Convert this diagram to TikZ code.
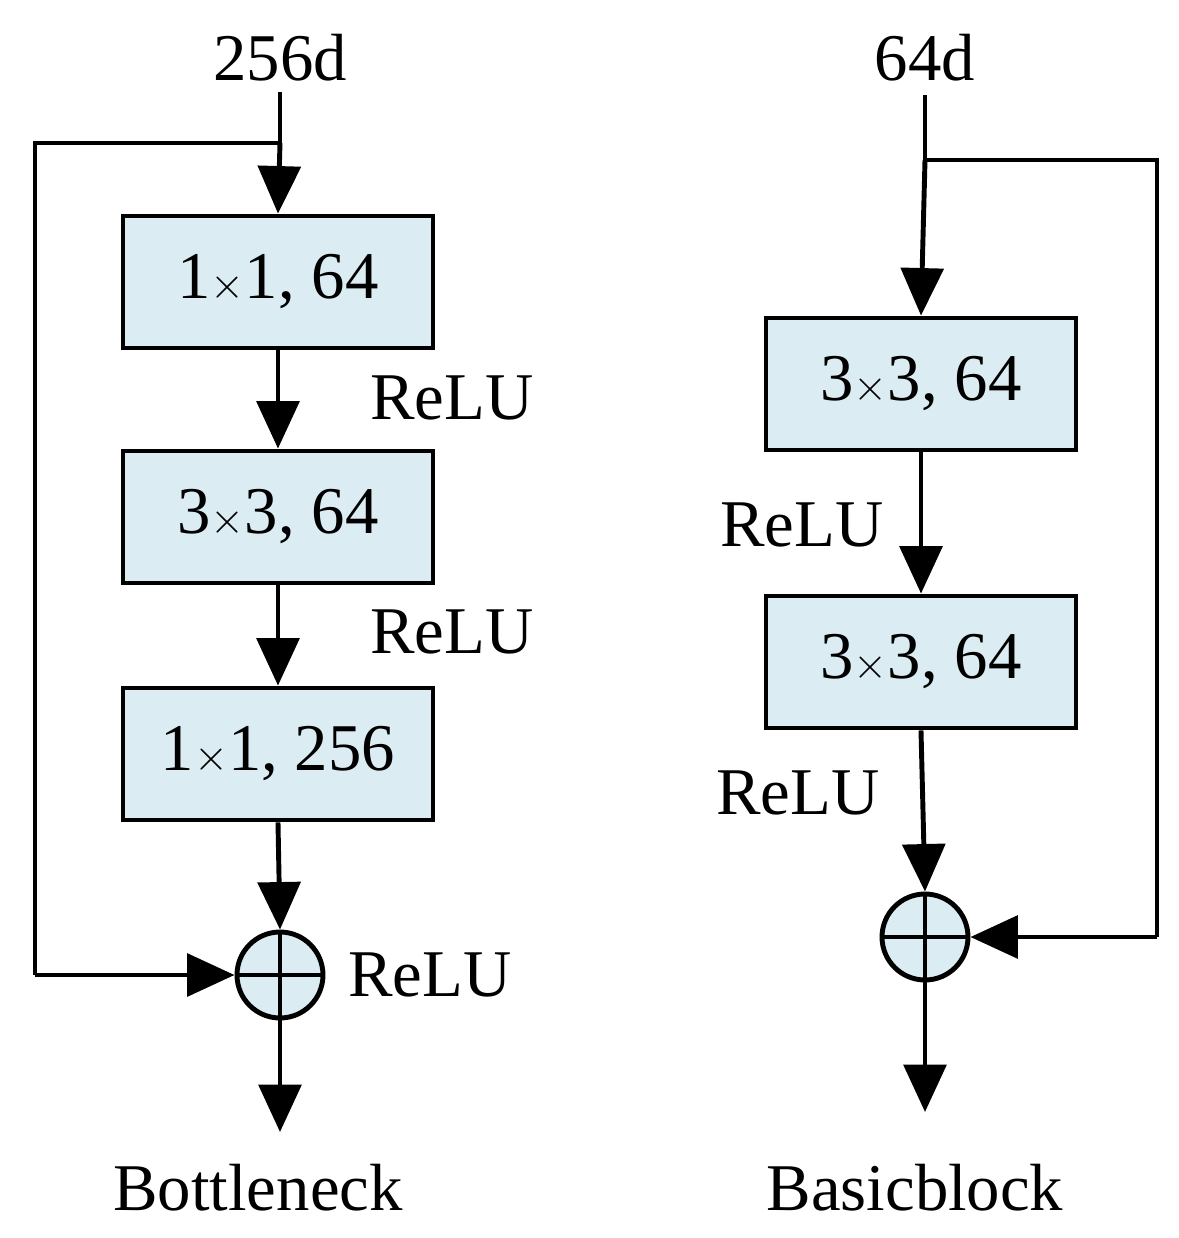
\documentclass[tikz,border=0pt]{standalone}
\usepackage{fontspec}
\setmainfont{Liberation Serif}
\usetikzlibrary{arrows.meta}
\definecolor{boxfill}{RGB}{219,237,243}
\begin{document}
\begin{tikzpicture}[x=0.02cm,y=-0.02cm,
  line width=2.8pt,
  lbl/.style={font=\fontsize{38}{40}\selectfont, inner sep=0},
  box/.style={draw, fill=boxfill, minimum width=6.2cm, minimum height=2.64cm, font=\fontsize{38}{40}\selectfont, inner sep=0},
  sum/.style={draw, fill=boxfill, circle, minimum size=1.72cm, inner sep=0},
  arr/.style={-{Triangle[length=0.95cm,width=0.85cm]}}]
\useasboundingbox (0,0) rectangle (1179,1238);
% Left: Bottleneck
\node[lbl] (in1) at (280,58) {256d};
\coordinate (t1) at (280,92);
\coordinate (s1) at (280,143);
\coordinate (s1a) at (35,143);
\coordinate (s1b) at (35,975);
\node[box] (b1) at (278,282) {1$\times$1, 64};
\node[box] (b2) at (278,517) {3$\times$3, 64};
\node[box] (b3) at (278,754) {1$\times$1, 256};
\node[sum] (c1) at (280,975) {};
\draw (c1.north) -- (c1.south) (c1.west) -- (c1.east);
\coordinate (o1) at (280,1132);
\draw (t1) -- (s1);
\draw[arr] (s1) -- (b1.north);
\draw (s1) -- (s1a) -- (s1b);
\draw[arr] (s1b) -- (c1.west);
\draw[arr] (b1.south) -- (b2.north);
\draw[arr] (b2.south) -- (b3.north);
\draw[arr] (b3.south) -- (c1.north);
\draw[arr] (c1.south) -- (o1);
\node[lbl] (r1) at (452,398) {ReLU};
\node[lbl] (r2) at (452,632) {ReLU};
\node[lbl] (r3) at (430,975) {ReLU};
\node[lbl] (n1) at (258,1188) {Bottleneck};
% Right: Basicblock
\node[lbl] (in2) at (925,58) {64d};
\coordinate (t2) at (925,95);
\coordinate (s2) at (925,160);
\coordinate (s2a) at (1157,160);
\coordinate (s2b) at (1157,937);
\node[box] (d1) at (921,384) {3$\times$3, 64};
\node[box] (d2) at (921,662) {3$\times$3, 64};
\node[sum] (c2) at (925,937) {};
\draw (c2.north) -- (c2.south) (c2.west) -- (c2.east);
\coordinate (o2) at (925,1112);
\draw (t2) -- (s2);
\draw[arr] (s2) -- (d1.north);
\draw (s2) -- (s2a) -- (s2b);
\draw[arr] (s2b) -- (c2.east);
\draw[arr] (d1.south) -- (d2.north);
\draw[arr] (d2.south) -- (c2.north);
\draw[arr] (c2.south) -- (o2);
\node[lbl] (r4) at (802,525) {ReLU};
\node[lbl] (r5) at (798,793) {ReLU};
\node[lbl] (n2) at (915,1188) {Basicblock};
\end{tikzpicture}
\end{document}
